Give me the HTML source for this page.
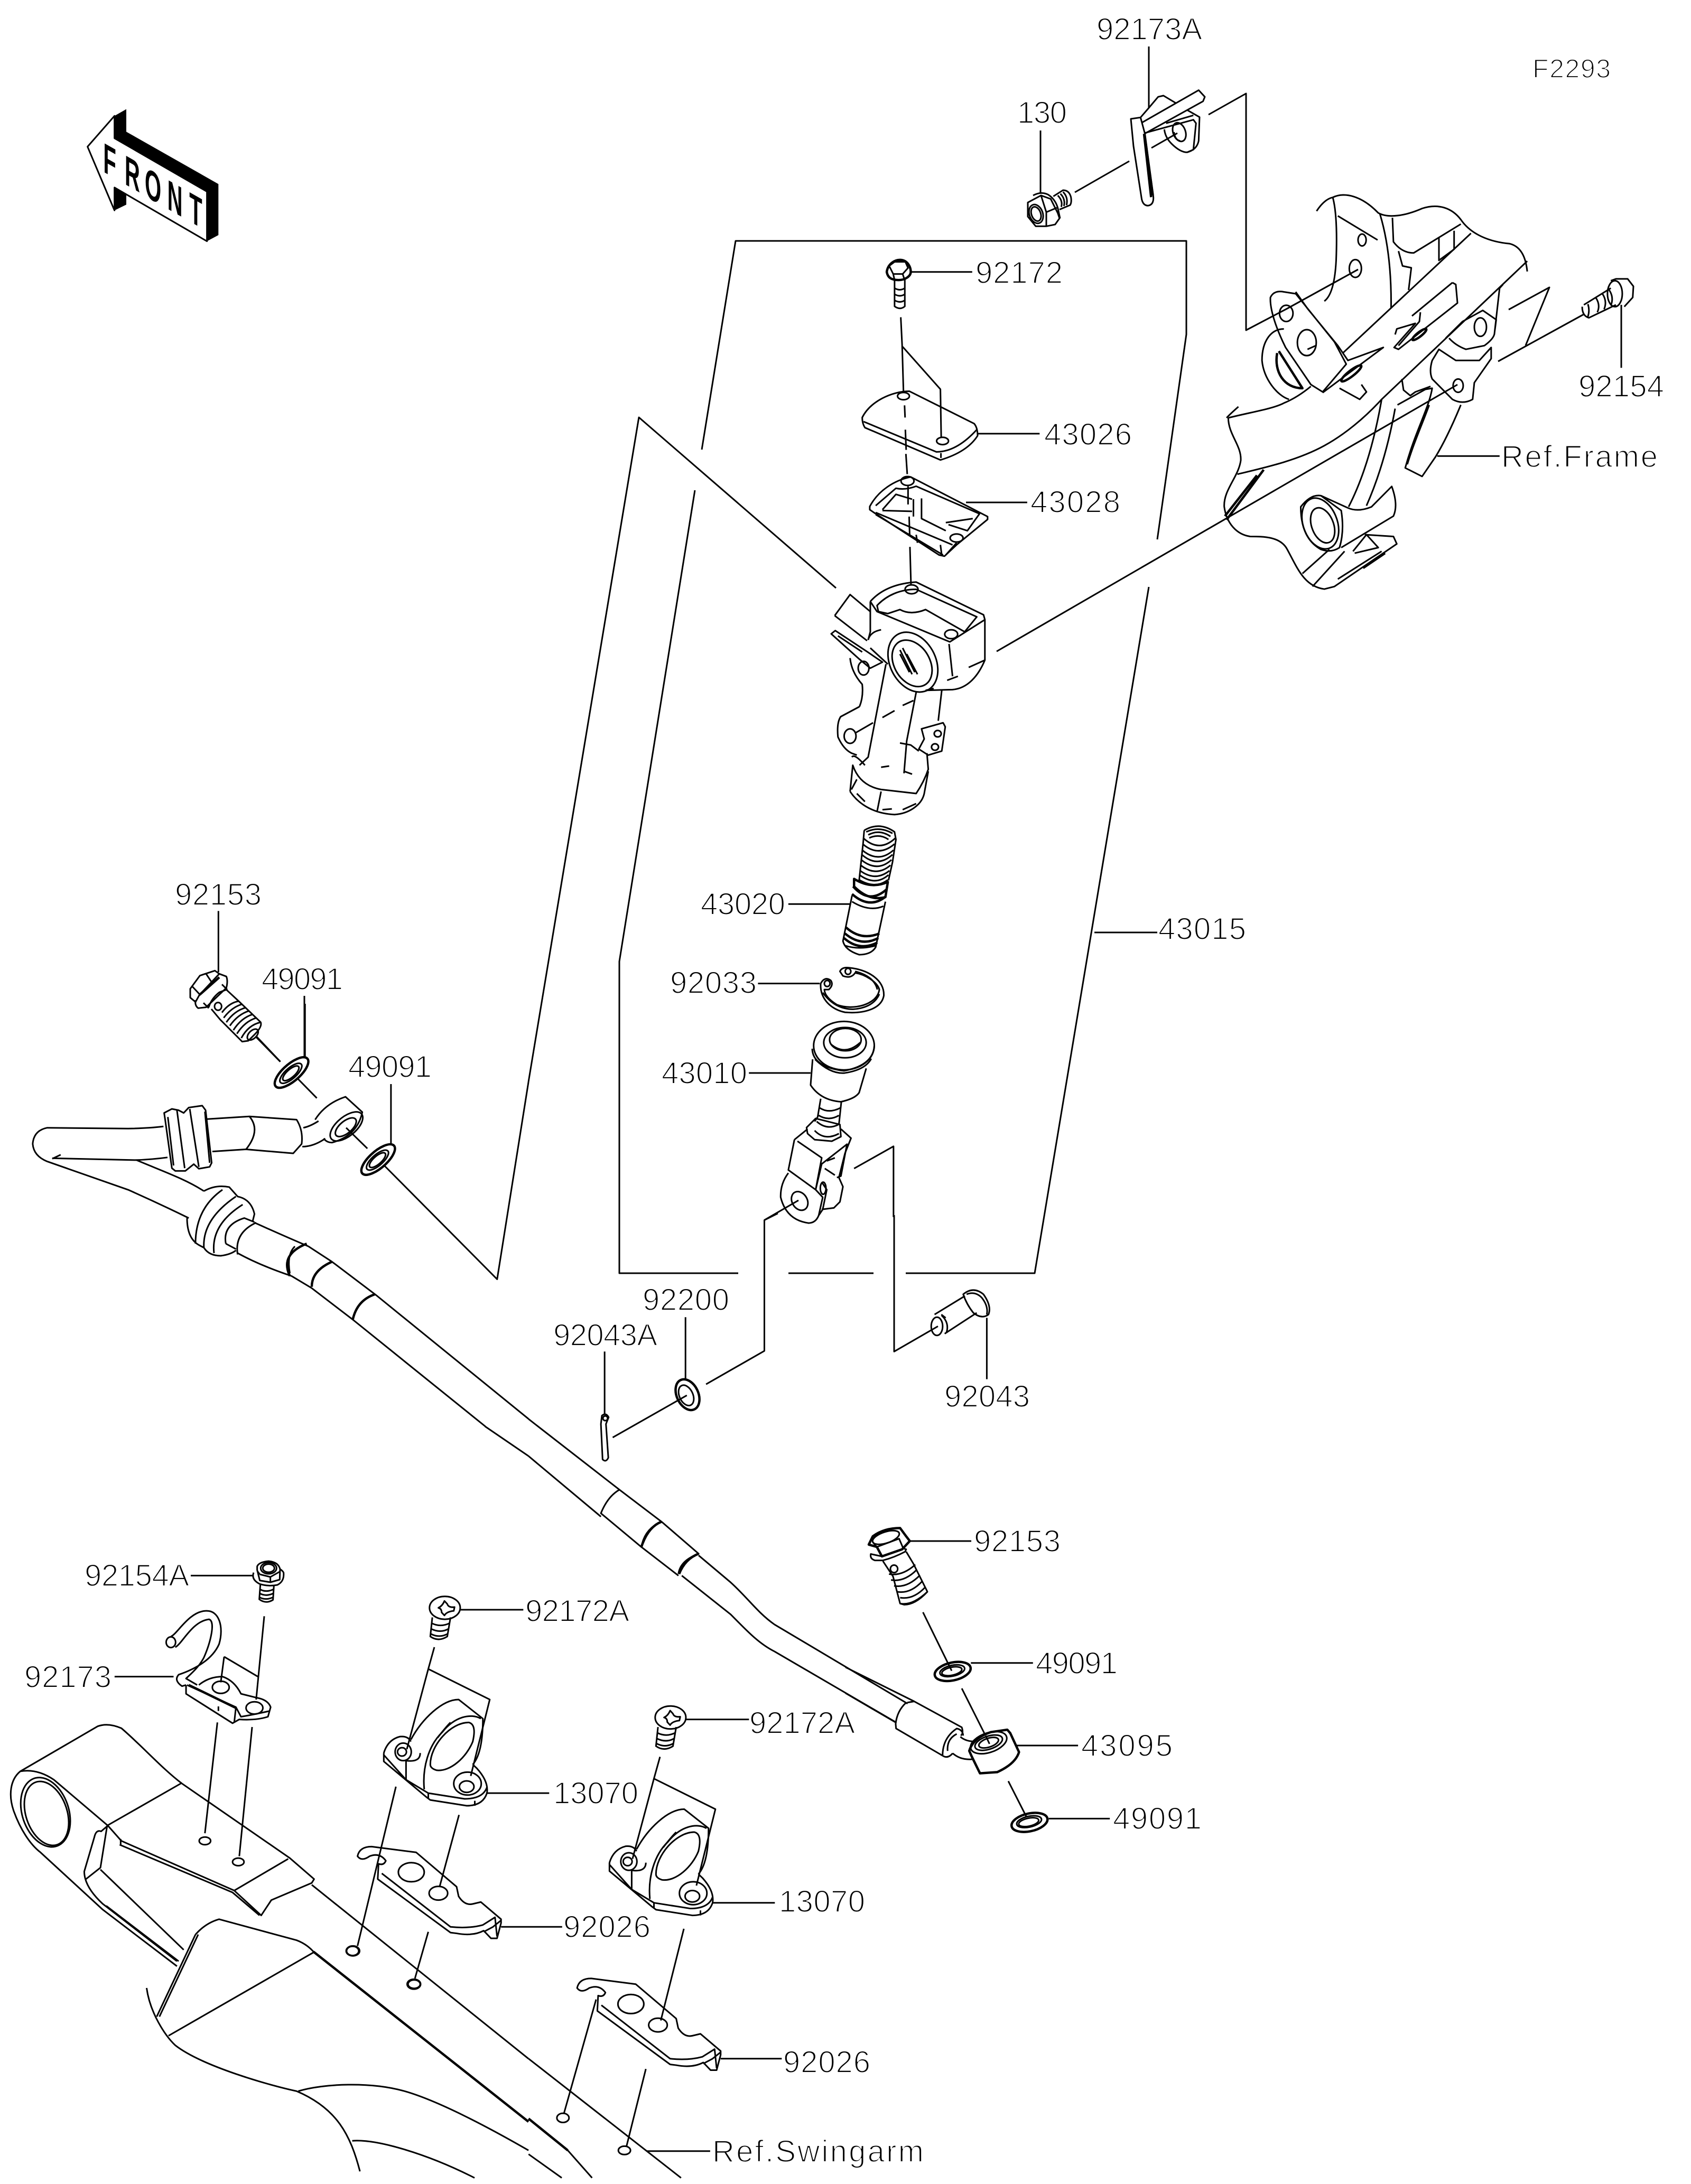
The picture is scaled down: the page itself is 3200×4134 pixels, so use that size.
<!DOCTYPE html>
<html><head><meta charset="utf-8"><title>F2293</title>
<style>
html,body{margin:0;padding:0;background:#fff}
svg{display:block}
svg *{vector-effect:non-scaling-stroke}
.l{fill:none;stroke:#000;stroke-width:3;stroke-linejoin:round;stroke-linecap:butt}
.l .w{fill:#fff}
.l .b{stroke-width:4.5}
.t text{font-family:"Liberation Sans",sans-serif;font-size:58px;fill:#000;stroke:#fff;stroke-width:2px}
</style></head><body>
<svg xmlns="http://www.w3.org/2000/svg" width="3200" height="4134" viewBox="0 0 3200 4134">
<rect width="3200" height="4134" fill="#fff"/>

<!-- FRONT -->
<g transform="translate(100,180) scale(.3333)">
<path d="M350,118L417,80L417,208L940,505L940,795L875,830L875,548L350,245Z M350,525L417,565L417,622L350,655Z" fill="#000"/>
<path d="M197,293L350,118L350,245L875,548L875,830L350,525L350,655Z" fill="#fff" stroke="#000" stroke-width="3" stroke-linejoin="round"/>
<g font-family="Liberation Sans,sans-serif" font-size="240" font-weight="bold" fill="#000">
<text transform="matrix(.5,.285,0,1,286,435)">F</text>
<text transform="matrix(.5,.285,0,1,408,505)">R</text>
<text transform="matrix(.5,.285,0,1,522,573)">O</text>
<text transform="matrix(.5,.285,0,1,650,645)">N</text>
<text transform="matrix(.5,.285,0,1,775,716)">T</text>
</g></g>

<!-- global frame & leaders -->
<g class="l">
<path d="M1328,851L1392,456L2245,456L2245,633L2190,1021"/>
<path d="M2174,1111L1958,2410L1714,2410"/>
<path d="M1653,2410L1492,2410"/>
<path d="M1397,2410L1172,2410L1172,1820L1315,928"/>
<path d="M2071,1765L2190,1765"/>
<path d="M918,2700L1000,2756"/>
<path d="M1000,2048L1209,790L1582,1113"/>
<path d="M1886,1233L2758,728"/>
<path d="M2287,217L2358,177L2358,625L2436,584L2570,510"/>
<path d="M2997,595L2835,684"/>
<path d="M2887,654L2932,544L2855,586"/>
<path d="M2034,364L2137,305"/>
<path d="M2179,280L2228,252"/>
<path d="M2174,88L2174,205"/>
<path d="M1969,247L1969,364"/>
</g>

<!-- top clip and bolt 130 : zoom 9 -->
<g class="l" transform="translate(1900,20) scale(.3333)">
<path d="M720,615L775,607L800,700L848,1060Q850,1105 815,1108Q785,1105 780,1060L735,770Z"/>
<path d="M775,607L820,555L875,490L905,483L975,525M785,635L1105,452L1140,490L1130,515L800,698"/>
<path d="M795,700L835,1060M805,760L845,1050" class="b"/>
<path d="M800,695L1075,620L1090,640L1075,790L1040,805Q1000,805 950,755Q915,720 910,675M1040,565L1110,605L1105,740Q1095,790 1040,805M920,640L1075,595"/>
<ellipse cx="995" cy="690" rx="35" ry="55" transform="rotate(-20 995 690)"/>
<path d="M965,690Q970,735 1000,740"/>
<path d="M135,1090L210,1050L265,1070L305,1150L315,1180L290,1215L240,1225L180,1225L135,1170Z"/>
<path d="M165,1050Q210,1025 250,1045Q290,1070 305,1120L318,1180"/>
<ellipse cx="182" cy="1155" rx="38" ry="55" transform="rotate(-20 182 1155)"/>
<ellipse cx="182" cy="1155" rx="26" ry="42" transform="rotate(-20 182 1155)"/>
<path d="M240,1145L300,1120M240,1145L240,1225M210,1050L240,1145"/>
<path d="M280,1055L335,1020Q370,1020 380,1060Q385,1090 375,1105L315,1130M305,1050Q335,1080 325,1115M320,1040Q350,1070 340,1110M335,1030Q365,1060 355,1105"/>
</g>

<!-- master cylinder : zoom 1 -->
<g class="l" transform="translate(1300,400) scale(.5102,.7653)">
<path d="M741,150C745,130 770,120 790,120C815,120 830,135 830,150C830,160 810,170 785,170C760,170 745,165 741,150Z" class="b"/>
<path d="M750,135L770,125L810,125L820,140L800,155L765,155ZM765,155L770,170M800,155L805,165"/>
<path d="M770,170L770,235Q790,245 808,235L808,165M770,190Q790,198 808,190M770,205Q790,213 808,205M770,220Q790,228 808,220"/>
<path d="M830,150L1058,150M793,262L798,330L803,445M800,335L940,440L943,560M807,480L809,510M810,540L813,590M812,600L817,650M820,680L820,725M824,755L826,800M827,830L831,925M1080,550L1308,550M1035,720L1262,720"/>
<path d="M650,510C680,470 760,445 825,445L1065,525Q1078,535 1078,555Q1040,595 940,615L660,535Q650,525 650,510Z"/>
<path d="M655,520L925,595Q1000,595 1075,540"/>
<ellipse cx="803" cy="457" rx="22" ry="9"/><ellipse cx="948" cy="568" rx="22" ry="9"/>
<path d="M942,598L942,610"/>
<path d="M678,730C710,690 770,665 830,657L1115,755L1115,762L1000,825L955,853L935,850L700,748L678,738Z"/>
<path d="M700,728L775,685Q810,690 850,680L1085,748L1040,790L970,775M870,710L870,760L960,790M960,770L1060,760M725,738L775,700L835,712M725,740L835,742M700,745L985,825M840,712L840,755" />
<path d="M700,750L950,850M960,850L1000,820M850,800L855,820M940,825L945,850"/>
<ellipse cx="818" cy="667" rx="24" ry="11"/><ellipse cx="1000" cy="808" rx="24" ry="10"/>
<path d="M680,965C720,935 780,920 850,917L1100,998L1105,1010L1105,1110C1080,1150 1040,1180 985,1183L880,1185" />
<path d="M680,965L680,1040L672,1060M680,965L705,990L975,1065L1105,1010"/>
<path d="M705,975C740,950 790,935 850,935L1075,1003L1030,1040L885,985Q830,1000 790,985L745,995L710,990Z"/>
<ellipse cx="833" cy="935" rx="24" ry="11"/><ellipse cx="980" cy="1046" rx="24" ry="11"/>
<path d="M972,1070L985,1150M1105,1110L1045,1128M965,1160L1005,1150"/>
<ellipse cx="838" cy="1115" rx="97" ry="68" transform="rotate(25 838 1115)" class="w"/>
<ellipse cx="835" cy="1118" rx="78" ry="52" transform="rotate(25 835 1118)"/>
<path d="M790,1085L835,1145M800,1080L845,1140M815,1095L855,1145M790,1095L825,1140" />
<path d="M548,1000L605,948L680,990M548,1000L668,1062M535,1045L550,1037L670,1090L725,1115L680,1130L640,1108Z"/>
<path d="M672,1060Q680,1040 720,1035M680,1080L745,1120M560,1050L650,1090"/>
<path d="M738,1120L672,1350L640,1370M945,1185L932,1260M850,1190L815,1310L805,1390M885,1185L915,1180M840,1210L800,1222M770,1235L725,1252M690,1265L625,1290M790,1315L830,1320L860,1335"/>
<path d="M640,1225L570,1250Q555,1265 560,1300Q580,1330 610,1340L630,1345M605,1105Q610,1140 650,1170Q655,1200 640,1225"/>
<ellipse cx="655" cy="1130" rx="20" ry="17"/><ellipse cx="605" cy="1298" rx="22" ry="18"/>
<path d="M870,1280L950,1265L958,1275L945,1335L895,1345L860,1330L880,1305Z"/>
<ellipse cx="930" cy="1292" rx="13" ry="8"/><ellipse cx="920" cy="1325" rx="13" ry="8"/>
<path d="M612,1350Q620,1340 660,1370M605,1435L615,1370Q640,1420 720,1430L850,1440Q880,1410 895,1380L890,1340M605,1435C640,1470 700,1490 770,1492C820,1490 870,1470 880,1440L895,1385M720,1435L705,1485M630,1405L610,1430M720,1375L750,1372M805,1385L835,1392M630,1440L660,1460M725,1480L760,1478M800,1480L850,1465"/>
</g>

<!-- frame : zoom 2 -->
<g class="l" transform="translate(2200,100) scale(.6378,.7015)">
<path d="M457,427Q480,395 505,390C540,375 590,385 640,432C670,447 720,440 770,420C820,405 860,420 885,450C915,490 970,510 1030,515Q1075,525 1082,590"/>
<path d="M505,390Q520,440 515,560Q510,650 480,670M520,440L638,505"/>
<ellipse cx="592" cy="505" rx="12" ry="16"/><ellipse cx="572" cy="582" rx="18" ry="24"/>
<path d="M645,435Q680,540 678,690M682,445L685,510Q710,540 745,540L885,462M700,535L712,575L738,580L730,640M820,500L820,560L865,530L865,480"/>
<path d="M915,487L535,810M1082,562L650,935C600,985 540,1030 480,1060C400,1100 300,1120 222,1137"/>
<path d="M320,660Q330,640 360,645L395,650L510,780L545,840L475,915L440,895L365,795C335,740 318,690 320,660ZM395,645L430,690L520,790L550,830L655,795L475,917"/>
<ellipse cx="367" cy="703" rx="20" ry="22"/><ellipse cx="428" cy="782" rx="28" ry="35"/>
<path d="M430,800L455,790"/>
<ellipse cx="560" cy="865" rx="36" ry="8" transform="rotate(-35 560 865)" class="b"/>
<path d="M525,905L585,935L605,915L590,895" />
<path d="M360,745C320,745 295,780 295,830C300,880 340,925 375,935"/>
<path d="M340,810C330,860 360,905 415,905L345,805" class="b"/>
<path d="M190,985Q200,975 225,955M195,985C260,970 330,960 360,945Q400,930 440,900M195,985C195,1030 235,1060 232,1100C225,1145 180,1180 183,1225C190,1270 220,1300 260,1305C300,1305 350,1305 370,1340C400,1390 420,1440 480,1447L510,1440L695,1325L685,1305L600,1300"/>
<path d="M300,1125L190,1260M280,1140L185,1250" class="b"/>
<path d="M410,1225Q440,1190 470,1195L530,1235Q540,1290 525,1335Q500,1350 470,1340Q410,1310 410,1225Z"/>
<ellipse cx="468" cy="1270" rx="50" ry="72" transform="rotate(-25 468 1270)"/>
<ellipse cx="475" cy="1275" rx="32" ry="50" transform="rotate(-25 475 1275)"/>
<path d="M470,1195L550,1228Q580,1240 620,1225L680,1170Q700,1220 685,1250L530,1335M415,1405L495,1340M445,1440L540,1345M520,1420L650,1345M565,1345L605,1300L640,1335L570,1350"/>
<path d="M595,1390L660,1350" class="b"/>
<path d="M650,935C630,1040 600,1140 552,1225M690,960C670,1060 640,1150 605,1222M697,950L780,908L800,905C790,960 750,1020 720,1120L770,1143L810,1090C850,1030 880,960 885,950"/>
<path d="M790,950C770,1000 745,1050 725,1110" class="b"/>
<path d="M800,830Q790,860 800,880L860,935Q890,950 920,935L925,890L975,825L975,795L940,830L870,830L820,800Z"/>
<ellipse cx="877" cy="898" rx="15" ry="18"/>
<path d="M850,770Q870,790 900,800L955,790Q985,770 985,755L1000,635L1010,625M840,770L890,725L950,695L990,720L985,755"/>
<ellipse cx="943" cy="740" rx="18" ry="25"/>
<path d="M860,620L870,625L875,675L700,800L687,795L750,730L695,745L690,760M740,710L860,620M765,700L762,725L700,790"/>
<ellipse cx="762" cy="760" rx="25" ry="6" transform="rotate(-35 762 760)" class="b"/>
<path d="M710,880L715,910L735,925L750,915L795,900"/>
<path d="M1245,685Q1245,710 1265,715L1345,680M1250,680L1330,635"/>
<ellipse cx="1342" cy="650" rx="22" ry="35"/>
<path d="M1330,615L1345,610L1380,610L1397,630L1395,660L1370,685M1285,660Q1300,680 1290,700M1305,650Q1320,670 1310,692M1325,640Q1340,660 1330,682M1262,678Q1268,695 1262,712"/>
<path d="M1361,680L1361,850M815,1088L1000,1088"/>
</g>

<!-- left bolt : zoom 10 -->
<g class="l" transform="translate(300,1650) scale(.3333)">
<path d="M340,223L340,570M555,940L690,1078M828,705L828,1060"/>
<path d="M180,665L235,590L320,562L345,580L232,700L210,740L180,715ZM270,580L300,625M190,650L232,695"/>
<path d="M345,580L385,595Q395,620 385,660L270,770L225,775Q205,760 210,730" />
<path d="M232,700L345,600" class="b"/>
<path d="M255,745L285,775M360,640L390,670"/>
<path d="M285,770Q300,720 345,685L385,670L455,735L580,855Q590,880 545,925L510,960L475,965L350,840L300,780" />
<path d="M360,800Q400,745 455,735M370,830Q415,770 475,752M385,855Q430,790 495,772M405,875Q450,810 515,790M425,900Q470,830 535,810M445,920Q490,850 555,830M470,945Q510,870 580,855"/>
<ellipse cx="338" cy="765" rx="20" ry="22"/>
<ellipse cx="535" cy="925" rx="38" ry="22" transform="rotate(-45 535 925)"/>
</g>

<!-- hose upper : zoom 3 -->
<g class="l" transform="translate(0,1900) scale(.6378,.5102)">
<ellipse cx="865" cy="255" rx="70" ry="28" transform="rotate(-50 865 255)" class="b"/>
<ellipse cx="863" cy="258" rx="46" ry="18" transform="rotate(-50 863 258)"/>
<ellipse cx="863" cy="258" rx="34" ry="13" transform="rotate(-50 863 258)"/>
<path d="M760,120L832,215M885,280L940,350M905,0L905,200"/>
<ellipse cx="1122" cy="578" rx="70" ry="28" transform="rotate(-50 1122 578)" class="b"/>
<ellipse cx="1120" cy="580" rx="46" ry="18" transform="rotate(-50 1120 580)"/>
<ellipse cx="1120" cy="580" rx="34" ry="13" transform="rotate(-50 1120 580)"/>
<path d="M1027,460L1090,537M1140,600L1475,1022L1568,290M1160,298L1160,520"/>
<path d="M935,430Q965,370 1025,345L1075,402Q1060,490 985,515Q970,515 960,500"/>
<ellipse cx="1028" cy="455" rx="65" ry="32" transform="rotate(-50 1028 455)"/>
<ellipse cx="1026" cy="458" rx="42" ry="20" transform="rotate(-50 1026 458)"/>
<path d="M155,575L180,560M155,573L400,580Q450,578 497,570M485,455Q440,462 380,463L140,460Q100,470 97,520Q100,565 140,585L380,690Q470,740 560,795M405,580C480,620 550,650 605,695"/>
<path d="M487,405L510,390L530,395L545,405L560,385L600,378L610,395L628,590L622,605L590,612L575,595L550,620L520,620L510,610L490,430Z" class="w"/>
<path d="M525,395L548,610M563,390L590,605M498,420L515,600M608,400L622,590"/>
<path d="M612,428L740,418L880,430Q900,470 895,520L870,555L730,540L630,548"/>
<path d="M740,418Q775,470 730,540"/>
<path d="M900,460Q920,455 945,435M897,530Q930,530 965,500"/>
<path d="M605,695Q640,670 680,680L705,715Q745,725 755,780L750,805M555,795Q555,870 590,895L605,905Q620,935 655,935Q685,930 700,915M580,890Q580,760 660,690M605,905Q600,800 700,715M635,925Q625,820 720,745M670,890Q660,820 725,795L755,810M670,890L700,910"/>
<path d="M755,812Q840,860 915,900M705,925Q770,970 865,1010M705,930Q695,850 760,812"/>
<path d="M860,1010Q830,930 910,890" class="b"/>
<path d="M875,900Q850,930 860,1000"/>
<path d="M915,900L985,957L1115,1080L1568,1540M865,1010L925,1055L1050,1175L1440,1568"/>
<path d="M925,1050Q925,990 985,957" class="b"/>
<path d="M1047,1170Q1060,1100 1112,1078" class="b"/>
</g>

<!-- spring, clip, piston, clevis : zoom 6 -->
<g class="l" transform="translate(1400,1500) scale(.3827,.574)">
<path d="M615,125Q690,95 765,130L772,155L755,230L735,290M615,125L610,165L590,290"/>
<path d="M625,130Q690,110 755,135M635,140Q690,120 745,145M640,150Q690,135 735,155M610,150Q690,200 770,150M608,170Q685,215 765,170M605,190Q685,235 760,190M603,205Q680,250 755,205M600,222Q680,265 750,222M598,240Q675,280 745,240M595,258Q670,295 740,258M592,272Q670,310 735,272M590,288Q670,320 732,288"/>
<path d="M565,285L565,310Q640,360 720,345L732,295Q650,320 565,285Z" class="b"/>
<path d="M560,310Q640,370 725,320M555,335Q640,385 718,345" class="b"/>
<path d="M555,340L510,490Q520,520 590,535Q650,535 672,510L720,360M240,368L545,368M555,360Q640,395 710,375"/>
<path d="M525,445Q600,490 690,465M520,465Q600,510 685,480M515,480Q590,525 680,495" class="b"/>
<path d="M520,505Q590,520 672,505"/>
<path d="M495,590Q505,575 540,578C640,585 715,620 712,670C700,715 610,730 520,725C450,715 395,680 400,630Q420,605 450,620Q465,635 440,650L418,650Q420,675 480,700C560,720 680,700 690,650C680,625 620,600 570,595Q550,615 510,605Z"/>
<path d="M90,630L395,630M410,660Q470,715 560,715M690,665Q660,710 560,715M570,590C630,600 670,620 680,650"/>
<ellipse cx="432" cy="630" rx="14" ry="10"/><ellipse cx="535" cy="590" rx="14" ry="10"/>
<ellipse cx="515" cy="835" rx="150" ry="80"/>
<path d="M358,845Q360,905 515,918Q660,900 665,835M372,880Q450,930 520,925Q620,915 650,878"/>
<ellipse cx="520" cy="825" rx="105" ry="50"/>
<ellipse cx="522" cy="815" rx="78" ry="37"/>
<path d="M450,830Q520,870 595,825"/>
<path d="M360,880L350,965Q400,1015 500,1020Q570,1010 590,990L625,910M45,925L350,925" />
<path d="M400,1010L385,1070L370,1085M502,1020L490,1095M395,1040Q440,1060 498,1040M390,1065Q440,1085 490,1065M380,1085Q430,1115 488,1095"/>
<path d="M330,1105L375,1075L495,1095L500,1135L455,1150L370,1145L335,1125ZM370,1115Q420,1150 490,1125"/>
<path d="M270,1145L335,1110M500,1110L550,1140L520,1190L490,1270L510,1300L495,1350L465,1370L405,1375"/>
<path d="M270,1145L240,1245L375,1310L405,1225L530,1160L500,1265L480,1270M285,1150L405,1205L375,1310M420,1240L470,1262M430,1215L470,1205"/>
<path d="M240,1255Q200,1290 202,1335Q230,1410 340,1420Q375,1420 390,1395L410,1335L375,1310"/>
<path d="M390,1395L410,1375L430,1310L405,1285"/>
<ellipse cx="296" cy="1347" rx="42" ry="29" transform="rotate(20 296 1347)"/>
<path d="M122,1410L290,1345M565,1240L760,1167L760,1400"/>
<ellipse cx="412" cy="1305" rx="14" ry="20"/>
</g>

<!-- lower mid : zoom 11 -->
<g class="l" transform="translate(1000,2300) scale(.6378)">
<path d="M0,605L270,815Q235,835 215,885L335,985M0,715L215,895M270,815L395,910Q345,930 335,985L445,1070M395,910L505,1005Q450,1025 445,1065M505,1010L600,1090C650,1135 680,1180 730,1215L1125,1450M455,1070L600,1185C640,1225 680,1270 730,1295L1090,1505"/>
<path d="M395,910Q355,925 335,985" class="b"/>
<path d="M505,1005Q465,1020 447,1065" class="b"/>
<ellipse cx="472" cy="533" rx="32" ry="48" transform="rotate(-25 472 533)" class="b"/>
<ellipse cx="468" cy="535" rx="20" ry="32" transform="rotate(-25 468 535)"/>
<path d="M466,303L466,490M527,502L700,403L700,15L740,-5M250,660L470,535"/>
<path d="M218,595Q230,585 238,600L230,620L237,720Q230,735 220,725L215,620Z M226,405L226,590"/>
<ellipse cx="228" cy="603" rx="7" ry="7"/>
<path d="M1290,235Q1320,210 1350,235Q1375,270 1365,295Q1345,310 1320,290Q1300,265 1290,235ZM1300,235Q1325,225 1345,245Q1365,270 1360,295M1295,240L1205,295M1330,290L1235,352M1085,0L1085,405L1215,330M1360,305L1360,487"/>
<ellipse cx="1212" cy="330" rx="17" ry="27"/>
<path d="M1225,295L1238,305"/>
<path d="M1226,298Q1250,320 1240,350"/>
</g>

<!-- end fittings : zoom 7 -->
<g class="l" transform="translate(1600,2850) scale(.3827,.4464)">
<path d="M320,150L622,150M383,452L525,700M575,775L710,1005M805,1168L895,1320M620,667L927,667M845,1017L1150,1017M1005,1327L1307,1327"/>
<path d="M115,165L135,130Q190,95 270,95L300,130L318,150L280,185L180,215L155,175Z" class="b"/>
<ellipse cx="200" cy="135" rx="68" ry="24" transform="rotate(-15 200 135)"/>
<path d="M155,175L265,140L285,180M135,155L155,175"/>
<path d="M180,215L125,205Q120,225 145,232L185,232Q240,220 295,195L300,185L280,180"/>
<path d="M185,235L235,300L270,415Q330,425 405,365L335,245L300,195M215,290Q280,300 345,250M225,315Q290,325 352,272M240,340Q305,350 368,295M255,365Q320,375 380,320M270,390Q335,400 395,345"/>
<ellipse cx="240" cy="268" rx="18" ry="16"/>
<path d="M270,415L290,420Q345,420 405,365"/>
<ellipse cx="530" cy="703" rx="90" ry="38" transform="rotate(-10 530 703)" class="b"/>
<ellipse cx="528" cy="700" rx="62" ry="23" transform="rotate(-10 528 700)"/>
<ellipse cx="526" cy="702" rx="50" ry="17" transform="rotate(-10 526 702)"/>
<ellipse cx="910" cy="1343" rx="90" ry="38" transform="rotate(-10 910 1343)" class="b"/>
<ellipse cx="908" cy="1340" rx="62" ry="23" transform="rotate(-10 908 1340)"/>
<ellipse cx="906" cy="1342" rx="50" ry="17" transform="rotate(-10 906 1342)"/>
<path d="M300,835Q255,870 248,925L250,945L480,1060M305,835L340,830L575,940Q585,965 570,975M340,830L0,685M250,920L0,795"/>
<path d="M480,1060Q480,985 550,945Q580,950 582,975M480,1060Q505,1075 530,1050M505,1040Q500,990 550,968"/>
<path d="M568,980Q595,1000 640,1000M530,1050Q570,1080 630,1075"/>
<path d="M612,1040Q630,985 720,960L800,950L815,965L858,1045Q840,1095 750,1130L665,1135L625,1065Z" class="w b"/>
<ellipse cx="708" cy="1005" rx="92" ry="42" transform="rotate(-15 708 1005)"/>
<ellipse cx="708" cy="1005" rx="70" ry="28" transform="rotate(-15 708 1005)"/>
<ellipse cx="708" cy="1005" rx="50" ry="19" transform="rotate(-15 708 1005)"/>
<path d="M693,975L712,1010"/>
</g>

<!-- swingarm & clip : zoom 4 -->
<g class="l" transform="translate(0,3000) scale(.6378,.7232)">
<path d="M60,488L290,370Q320,360 360,375C420,420 480,480 540,520L860,715L932,770L925,780L805,825L775,865L695,800L360,670L320,630L160,510Q110,480 60,488ZM60,488C30,510 25,550 40,590C60,640 90,680 120,700L305,850L525,998"/>
<ellipse cx="135" cy="595" rx="68" ry="95" transform="rotate(-25 135 595)"/>
<ellipse cx="138" cy="598" rx="60" ry="88" transform="rotate(-25 138 598)"/>
<path d="M355,680L690,805L770,865M320,630L300,645Q285,640 280,660L250,750Q250,790 305,835L525,985M318,630L298,740L255,770M298,745L545,955M315,840L530,985M318,630L540,518M695,800L855,717M358,665L358,680"/>
<path d="M925,785L1568,1240"/>
<path d="M465,1130L580,915M473,1130L588,915"/>
<path d="M580,915Q610,885 650,875L880,930Q910,940 930,960"/>
<path d="M930,960L1568,1405" class="b"/>
<path d="M435,1055C445,1120 490,1180 520,1205C600,1260 800,1310 880,1325C1000,1370 1040,1440 1068,1535M500,1180L930,962M885,1325C960,1305 1100,1300 1200,1325C1300,1350 1450,1420 1568,1480M1045,1455C1120,1450 1270,1490 1408,1552"/>
<ellipse cx="608" cy="670" rx="17" ry="10"/><ellipse cx="707" cy="725" rx="17" ry="10"/>
<ellipse cx="1047" cy="958" rx="20" ry="13"/><ellipse cx="1228" cy="1045" rx="20" ry="13"/>
<path d="M507,135C525,130 560,70 610,68C650,65 665,110 650,155C630,195 580,220 530,235Q515,250 540,265L552,262M520,163C540,155 570,95 620,90C640,95 625,150 605,190C590,215 570,230 552,245L585,262"/>
<ellipse cx="507" cy="150" rx="14" ry="14"/>
<path d="M552,262L552,285L690,362L710,352Q760,355 795,345L803,320Q795,300 760,295L715,285Q695,250 660,240Q620,240 590,262M555,262L700,320L695,360M700,320L715,345Q750,340 800,330"/>
<path d="M560,262L700,322" class="b"/>
<ellipse cx="655" cy="268" rx="25" ry="16"/><ellipse cx="755" cy="322" rx="25" ry="16"/>
<path d="M665,188L655,255M665,188L765,240M784,82L760,300M645,360L608,650M748,372L710,710M340,240L515,240M648,318L648,330"/>
</g>

<!-- bolt 92154A : zoom 12 -->
<g class="l" transform="translate(130,2940) scale(.3333)">
<path d="M693,127L1045,127"/>
<path d="M1050,110Q1035,150 1085,175Q1135,190 1185,180Q1225,160 1220,110Q1215,100 1200,90"/>
<path d="M1070,75Q1080,50 1135,45Q1190,50 1200,90L1198,150L1145,165L1085,155L1070,95ZM1085,120L1145,135L1198,105M1145,135L1145,165M1070,100L1085,120"/>
<ellipse cx="1135" cy="85" rx="45" ry="32"/><ellipse cx="1135" cy="85" rx="33" ry="23"/>
<path d="M1088,180L1082,262Q1120,290 1160,265L1165,185M1086,205Q1120,225 1163,205M1084,228Q1120,248 1162,228M1082,250Q1120,270 1161,250"/>
</g>

<!-- brackets & plates : zoom 5 -->
<g class="l" transform="translate(600,3000) scale(.7653,.7232)">
<defs>
<g id="br">
<ellipse cx="316" cy="60" rx="38" ry="30" class="w"/>
<path d="M300,60Q310,55 315,42L322,50Q325,60 340,58L338,68Q320,70 315,80L308,72Q308,62 300,60Z"/>
<path d="M285,85L280,135Q300,150 322,135L330,85M283,100Q305,112 328,100M282,115Q305,127 325,115M281,128Q302,140 323,128"/>
<path d="M355,65L510,65M290,163L275,220L427,300L380,500M275,220L222,430"/>
<path d="M165,440L165,462L270,555L280,563L370,578Q410,578 420,545Q425,515 395,480L385,470M165,440Q175,405 205,397Q225,395 232,410M165,445L220,510L275,545L365,560Q410,560 420,530M275,545L275,560M390,565L390,578"/>
<ellipse cx="213" cy="437" rx="20" ry="23"/><ellipse cx="210" cy="437" rx="11" ry="11"/>
<ellipse cx="372" cy="520" rx="34" ry="30"/><ellipse cx="370" cy="528" rx="18" ry="15"/>
<path d="M232,405C260,350 310,300 350,300L410,350Q410,440 385,470M265,535C260,480 275,420 310,385C340,345 380,335 405,350M220,510L220,460M220,460Q255,465 255,440"/>
<path d="M280,470C280,420 330,360 375,360Q395,365 385,410C370,450 330,490 295,485Q280,480 280,470Z"/>
<path d="M298,400Q320,370 330,360"/>
<path d="M420,545L574,545"/>
</g>
<g id="pl">
<path d="M100,710Q105,685 135,685L245,700L345,790L350,815Q365,840 385,835L405,830L455,875L455,885L445,925L430,925L412,905Q385,920 345,912L330,910L150,770L152,730Q165,735 170,722Q155,700 130,710Q110,725 100,710Z"/>
<path d="M160,755L330,895Q375,900 410,890L440,870L445,920M455,878L435,895L412,908"/>
<ellipse cx="233" cy="752" rx="32" ry="25"/><ellipse cx="300" cy="807" rx="23" ry="18"/>
<path d="M455,895L606,895"/>
</g>
</defs>
<use href="#br"/><use href="#br" x="558" y="287"/>
<use href="#pl"/><use href="#pl" x="543" y="345"/>
<path d="M195,528L100,945M351,602L303,790M275,908L242,1030M907,900L850,1140M690,1085L610,1385M813,1267L765,1470M815,1482L972,1482"/>
<ellipse cx="88" cy="958" rx="15" ry="12"/><ellipse cx="240" cy="1045" rx="15" ry="11"/>
<ellipse cx="608" cy="1395" rx="15" ry="12"/><ellipse cx="760" cy="1480" rx="15" ry="11"/>
<path d="M523,1240L900,1552M523,1490L605,1552"/>
<path d="M523,1397L620,1480" class="b"/>
<path d="M620,1480L680,1552"/>
</g>

<!-- labels -->
<g class="t">
<text x="2900" y="147" textLength="148" style="font-size:50px">F2293</text>
<text x="2075" y="75" textLength="200">92173A</text>
<text x="1925" y="233" textLength="94">130</text>
<text x="1846" y="536" textLength="165">92172</text>
<text x="1976" y="842" textLength="166">43026</text>
<text x="1950" y="970" textLength="170">43028</text>
<text x="2987" y="751" textLength="162">92154</text>
<text x="2841" y="884" textLength="296" lengthAdjust="spacing">Ref.Frame</text>
<text x="2192" y="1778" textLength="166">43015</text>
<text x="1326" y="1731" textLength="160">43020</text>
<text x="1268" y="1880" textLength="164">92033</text>
<text x="1252" y="2051" textLength="162">43010</text>
<text x="331" y="1713" textLength="164">92153</text>
<text x="495" y="1873" textLength="154">49091</text>
<text x="659" y="2039" textLength="158">49091</text>
<text x="1216" y="2480" textLength="164">92200</text>
<text x="1047" y="2547" textLength="197">92043A</text>
<text x="1787" y="2663" textLength="162">92043</text>
<text x="1843" y="2937" textLength="164">92153</text>
<text x="1960" y="3168" textLength="155">49091</text>
<text x="2046" y="3324" textLength="173">43095</text>
<text x="2106" y="3462" textLength="168">49091</text>
<text x="160" y="3002" textLength="198">92154A</text>
<text x="46" y="3194" textLength="165">92173</text>
<text x="994" y="3069" textLength="197">92172A</text>
<text x="1047" y="3414" textLength="161">13070</text>
<text x="1066" y="3667" textLength="165">92026</text>
<text x="1418" y="3281" textLength="200">92172A</text>
<text x="1474" y="3619" textLength="163">13070</text>
<text x="1482" y="3923" textLength="165">92026</text>
<text x="1348" y="4092" textLength="400" lengthAdjust="spacing">Ref.Swingarm</text>
</g>
</svg>
</body></html>
